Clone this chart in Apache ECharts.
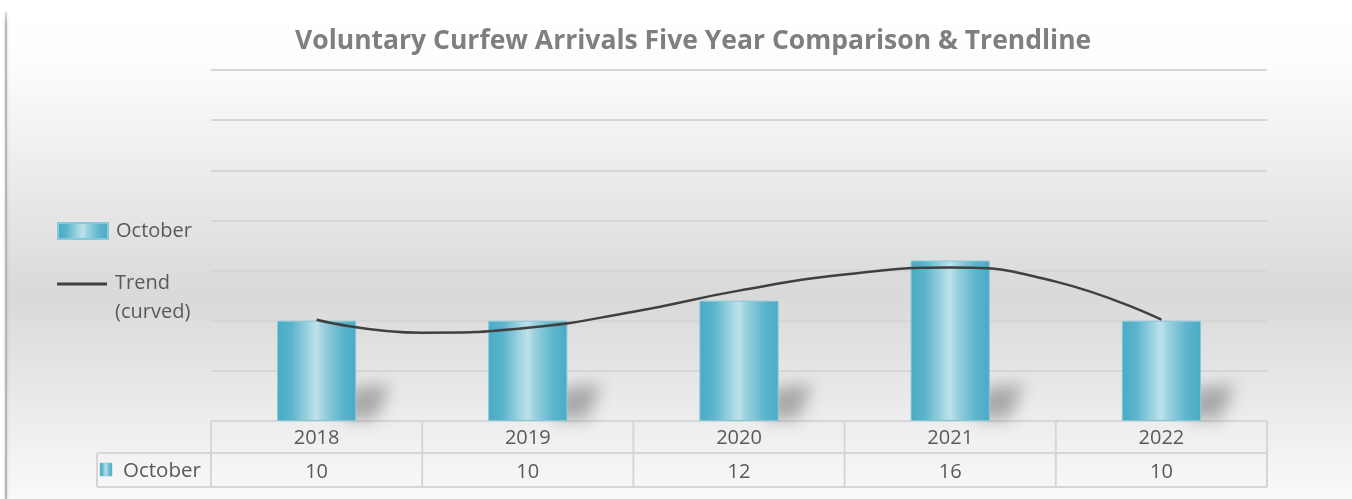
<!DOCTYPE html>
<html><head><meta charset="utf-8">
<script src="https://cdn.jsdelivr.net/npm/echarts@6/dist/echarts.min.js"></script>
<style>html,body{margin:0;padding:0;background:#fff}#c{width:1352px;height:499px}</style>
</head><body><div id="c"></div>
<script>
const title = 'Voluntary Curfew Arrivals Five Year Comparison & Trendline';
const categories = ['2018', '2019', '2020', '2021', '2022'];
const octoberValues = [10, 10, 12, 16, 10];
// curved trendline at half-category steps (x = category position 1..5)
const trendX = [1, 1.5, 2, 2.5, 3, 3.5, 4, 4.5, 5];
const trendY = [10.1, 8.8, 9.3, 10.9, 13.0, 14.6, 15.3, 13.9, 10.1];
const yMin = 0, yMax = 35, yInterval = 5;

const FONT = 'Open Sans';
const TXT = '#595959';
const FS = 20;
const G = {left: 211, right: 1267, top: 70, bottom: 421};
const rowH = [32, 34];
const legendCellLeft = 97;

const barGrad = {type: 'linear', x: 0, y: 0, x2: 1, y2: 0, colorStops: [
  {offset: 0, color: '#4aabc5'}, {offset: 0.18, color: '#5ab4cc'},
  {offset: 0.42, color: '#a6d7e3'}, {offset: 0.5, color: '#bde2eb'},
  {offset: 0.58, color: '#9dd2df'}, {offset: 0.82, color: '#5cb5cc'},
  {offset: 1, color: '#4aabc5'}]};

const chart = echarts.init(document.getElementById('c'), null, {renderer: 'canvas'});

const colW = (G.right - G.left) / categories.length;
const tableGraphics = [];
const lineStyle = {stroke: '#d6d6d6', lineWidth: 2};
const y1 = G.bottom, y2 = G.bottom + rowH[0], y3 = y2 + rowH[1];
for (let i = 0; i <= categories.length; i++) {
  const x = G.left + i * colW;
  tableGraphics.push({type: 'line', shape: {x1: x, y1: y1, x2: x, y2: y3}, style: lineStyle, z: 5});
}
tableGraphics.push({type: 'line', shape: {x1: legendCellLeft, y1: y2, x2: G.right, y2: y2}, style: lineStyle, z: 5});
tableGraphics.push({type: 'line', shape: {x1: legendCellLeft, y1: y3, x2: G.right, y2: y3}, style: lineStyle, z: 5});
tableGraphics.push({type: 'line', shape: {x1: legendCellLeft, y1: y2, x2: legendCellLeft, y2: y3}, style: lineStyle, z: 5});
tableGraphics.push({type: 'rect', shape: {x: 100, y: y2 + 10, width: 12, height: 13},
  style: {fill: barGrad, stroke: '#7cc3d4', lineWidth: 0.5}, z: 5});
tableGraphics.push({type: 'text', x: 123, y: y2 + rowH[1] / 2 + 1,
  style: {text: 'October', font: '20.5px "' + FONT + '"', fill: TXT, verticalAlign: 'middle'}, z: 5});

chart.setOption({
  backgroundColor: '#ffffff',
  animation: false,
  title: {text: title, left: 295, top: 28, padding: 0,
    textStyle: {fontFamily: FONT, fontWeight: 'bold', fontSize: 26.5, color: '#7f7f7f'}},
  graphic: [
    {type: 'rect', z: -10, shape: {x: 7, y: 10, width: 1360, height: 500},
      style: {fill: {type: 'linear', x: 0, y: 0, x2: 0, y2: 1, colorStops: [
        {offset: 0, color: '#ffffff'}, {offset: 0.1, color: '#fdfdfd'},
        {offset: 0.57, color: '#d9d9d9'}, {offset: 1, color: '#fbfbfb'}]}}},
    {type: 'line', z: -9, shape: {x1: 6, y1: 12, x2: 6, y2: 499},
      style: {stroke: {type: 'linear', x: 0, y: 0, x2: 0, y2: 1, colorStops: [
        {offset: 0, color: 'rgba(170,170,170,0.2)'}, {offset: 0.03, color: 'rgba(170,170,170,0.8)'},
        {offset: 1, color: 'rgba(170,170,170,0.8)'}]}, lineWidth: 2, shadowColor: 'rgba(0,0,0,0.25)', shadowBlur: 3}},
    ...tableGraphics
  ],
  legend: [
    {orient: 'vertical', left: 57, top: 221, padding: 0, itemWidth: 50, itemHeight: 16,
      data: [{name: 'October', icon: 'rect'}],
      textStyle: {fontFamily: FONT, fontSize: FS, color: TXT, padding: [0, 0, 0, 3]}},
    {orient: 'vertical', left: 57, top: 269, padding: 0, itemWidth: 50, itemHeight: 31,
      data: [{name: 'Trend\n(curved)', icon: 'path://M0,0h50v3h-50z M0,30.9h0.05v0.05h-0.05z'}],
      textStyle: {fontFamily: FONT, fontSize: FS, color: TXT, lineHeight: 29, padding: [0, 0, 0, 3]}}
  ],
  grid: {left: G.left, right: 1352 - G.right, top: G.top, bottom: 499 - G.bottom, containLabel: false},
  xAxis: [
    {type: 'category', data: categories, axisLine: {show: false}, axisTick: {show: false},
      axisLabel: {fontFamily: FONT, fontSize: FS, color: TXT, margin: 7}},
    {type: 'category', data: categories, position: 'bottom', offset: rowH[0],
      axisLine: {show: false}, axisTick: {show: false},
      axisLabel: {fontFamily: FONT, fontSize: FS, color: TXT, margin: 9,
        formatter: (v, i) => String(octoberValues[i])}},
    {type: 'value', min: 0.5, max: 5.5, show: false}
  ],
  yAxis: {type: 'value', min: yMin, max: yMax, interval: yInterval,
    axisLabel: {show: false}, axisLine: {show: false}, axisTick: {show: false},
    splitLine: {lineStyle: {color: '#d6d6d6', width: 2}}},
  series: [
    {type: 'custom', name: 'shadow', xAxisIndex: 0, z: 1, silent: true, clip: false,
      data: octoberValues.map((v, i) => [i, v]),
      renderItem: (params, api) => {
        const base = api.coord([api.value(0), 0]);
        const w = api.size([1, 0])[0] * 0.375;
        const xr = base[0] + w / 2, yb = base[1];
        const off = 3000;
        return {type: 'polygon',
          shape: {points: [[xr - 14 - off, yb - 2], [xr - 6 - off, yb - 33], [xr + 34 - off, yb - 37], [xr + 20 - off, yb - 2]]},
          style: {fill: '#000', shadowColor: 'rgba(60,60,60,0.38)', shadowBlur: 16, shadowOffsetX: off, shadowOffsetY: 0}};
      }},
    {type: 'bar', name: 'October', data: octoberValues, barWidth: '37.5%', xAxisIndex: 0, z: 2,
      itemStyle: {color: barGrad, borderColor: '#86c9d9', borderWidth: 1}},
    {type: 'line', name: 'Trend\n(curved)', xAxisIndex: 2, z: 3, smooth: 0.5,
      data: trendX.map((x, i) => [x, trendY[i]]), symbol: 'none',
      lineStyle: {color: '#404040', width: 2.5}, itemStyle: {color: '#404040'}}
  ]
});
</script></body></html>
